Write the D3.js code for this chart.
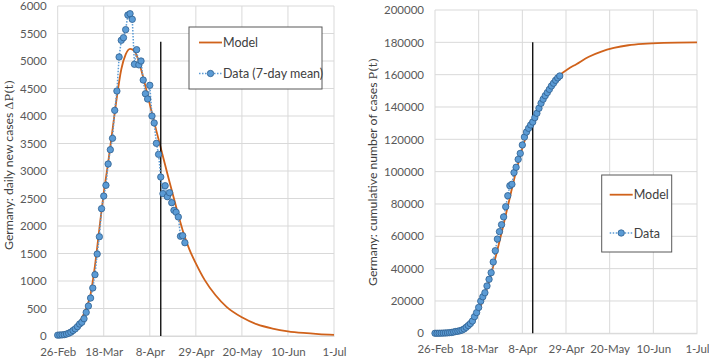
<!DOCTYPE html>
<html>
<head>
<meta charset="utf-8">
<script src="https://cdn.jsdelivr.net/npm/d3@7"></script>
<style>
  body { margin: 0; background: #fff; }
  svg { font-family: Lato, "Open Sans", sans-serif; }
</style>
</head>
<body>
<div id="chart"></div>
<script>
const width = 709;
const height = 358;

// day 0 = 26-Feb-2020
const startDate = new Date(2020, 1, 26);
const tickLabels = ["26-Feb", "18-Mar", "8-Apr", "29-Apr", "20-May", "10-Jun", "1-Jul"];
const tickDays = [0, 21, 42, 63, 84, 105, 126];
const cutDay = 47;

// daily new cases, 7-day mean (one value per day from 26-Feb)
const dailyMean = [15, 18, 20, 25, 35, 50, 70, 100, 130, 170,
  218, 250, 315, 430, 545, 690, 873, 1115, 1490, 1805, 2315, 2545, 2740,
  3127, 3387, 3594, 4103, 4454, 5073, 5376, 5424, 5570, 5836, 5860, 5758, 4940,
  5206, 4930, 5000, 4654, 4405, 4309, 4558, 4000, 3873, 3503, 3303, 2890,
  2588, 2733, 2533, 2606, 2424, 2285, 2249, 2164, 1813, 1824, 1696];

// model for daily new cases
const modelDailyDays = [0, 4, 8, 11, 13, 15, 17, 19, 21, 23, 25, 27, 29, 31, 33, 35, 37, 39, 41, 43, 45, 47,
  49, 51, 53, 55, 57, 60, 63, 67, 72, 77, 84, 91, 98, 105, 112, 119, 126];
const modelDailyVals = [10, 45, 150, 330, 500, 760, 1280, 1950, 2600, 3150, 3750, 4350, 4850, 5120, 5220, 5180,
  4990, 4700, 4380, 4050, 3730, 3420, 3110, 2800, 2500, 2200, 1920, 1580, 1320, 1020, 740, 530, 340, 210,
  135, 85, 55, 35, 22];

// cumulative cases (one value per day from 26-Feb)
const cumCases = [20, 30, 50, 80, 130, 200, 260, 400, 530, 800,
  1100, 1300, 1600, 2000, 2700, 3700, 4800, 6000, 7600, 10300,
  12800, 16000, 19900, 22600, 25100, 29300, 33400, 37500, 44100, 51100,
  58300, 62900, 67200, 72000, 78300, 85100, 91300, 92200, 99400, 102700,
  107600, 111300, 116500, 121400, 124500, 126800, 128900, 130700, 133400, 136100,
  139200, 142300, 144800, 147000, 148900, 150900, 153000, 154700, 156500, 158000, 159200];

// model for cumulative cases
const modelCumDays = [0, 6, 10, 13, 16, 18, 20, 22, 24, 26, 28, 30, 32, 34, 36, 38, 40, 42, 44, 46, 48,
  50, 52, 54, 56, 58, 60, 64, 68, 74, 80, 86, 93, 100, 110, 126];
const modelCumVals = [0, 200, 700, 1700, 3800, 6500, 11000, 17000, 24000, 32000, 41500, 51500, 62000, 73000,
  84000, 95000, 105000, 114500, 122500, 128500, 134800, 140500, 145500, 150000, 154000, 157200, 159700,
  163500, 166500, 171100, 174300, 176500, 178200, 179100, 179700, 180000];

const dayToDate = d => d3.timeDay.offset(startDate, d);

const svg = d3.select("#chart").append("svg")
  .attr("width", width)
  .attr("height", height);

function drawPanel(opt) {
  const x = d3.scaleTime()
    .domain([dayToDate(0), dayToDate(126)])
    .range([opt.left, opt.right]);
  const y = d3.scaleLinear()
    .domain([0, opt.yMax])
    .range([opt.bottom, opt.top]);

  const g = svg.append("g");

  // grid
  g.selectAll(".hgrid")
    .data(y.ticks(opt.yTickCount))
    .enter().append("line")
    .attr("x1", opt.left).attr("x2", opt.right)
    .attr("y1", d => y(d)).attr("y2", d => y(d))
    .attr("stroke", "#d9d9d9").attr("stroke-width", 1);
  g.selectAll(".vgrid")
    .data(tickDays)
    .enter().append("line")
    .attr("x1", d => x(dayToDate(d))).attr("x2", d => x(dayToDate(d)))
    .attr("y1", opt.top).attr("y2", opt.bottom)
    .attr("stroke", "#d9d9d9").attr("stroke-width", 1);

  // x axis
  const xAxis = g.append("g")
    .attr("transform", "translate(0," + opt.bottom + ")")
    .call(d3.axisBottom(x)
      .tickValues(tickDays.map(dayToDate))
      .tickFormat((d, i) => tickLabels[i])
      .tickSize(0).tickPadding(12));
  xAxis.select(".domain").attr("stroke", "#d9d9d9");

  // y axis
  const yAxis = g.append("g")
    .attr("transform", "translate(" + opt.left + ",0)")
    .call(d3.axisLeft(y).ticks(opt.yTickCount).tickFormat(d3.format("d"))
      .tickSize(0).tickPadding(opt.yPad));
  yAxis.select(".domain").remove();

  g.selectAll(".tick text")
    .attr("fill", "#595959")
    .style("font-size", "11.5px")
    .style("font-family", "Lato, sans-serif");

  // model line
  const modelPts = opt.modelDays.map((d, i) => [d, opt.modelVals[i]]);
  g.append("path")
    .datum(modelPts)
    .attr("fill", "none")
    .attr("stroke", "#d0621b")
    .attr("stroke-width", 1.8)
    .attr("d", d3.line()
      .x(d => x(dayToDate(d[0])))
      .y(d => y(d[1]))
      .curve(d3.curveMonotoneX));

  // cut line
  g.append("line")
    .attr("x1", x(dayToDate(cutDay))).attr("x2", x(dayToDate(cutDay)))
    .attr("y1", y(0)).attr("y2", y(opt.cutTop))
    .attr("stroke", "#000").attr("stroke-width", 1.3);

  // data: dotted line + markers
  g.append("path")
    .datum(opt.data)
    .attr("fill", "none")
    .attr("stroke", "#5b9bd5")
    .attr("stroke-width", 1.5)
    .attr("stroke-dasharray", "1.5,1.5")
    .attr("d", d3.line()
      .x((d, i) => x(dayToDate(i)))
      .y(d => y(d)));

  g.selectAll(".pt")
    .data(opt.data)
    .enter().append("circle")
    .attr("cx", (d, i) => x(dayToDate(i)))
    .attr("cy", d => y(d))
    .attr("r", 3.2)
    .attr("fill", "#5b9bd5")
    .attr("stroke", "#2f5f8f")
    .attr("stroke-width", 0.8);

  // y title
  const t = g.append("text")
    .attr("transform", "translate(" + opt.titleX + "," + opt.titleY + ") rotate(-90)")
    .attr("text-anchor", "middle")
    .attr("fill", "#404040")
    .style("font-size", "12.2px");
  t.append("tspan").text(opt.title + " ");
  t.append("tspan").style("font-family", "'DejaVu Serif', serif").style("font-size", "11.5px").text(opt.titleSym);

  // legend
  const lg = g.append("g");
  lg.append("rect")
    .attr("x", opt.legend.x).attr("y", opt.legend.y)
    .attr("width", opt.legend.w).attr("height", opt.legend.h)
    .attr("fill", "#fff").attr("stroke", "#595959").attr("stroke-width", 1);
  const lx = opt.legend.x + opt.legend.pad;
  lg.append("line")
    .attr("x1", lx).attr("x2", lx + 23)
    .attr("y1", opt.legend.y1).attr("y2", opt.legend.y1)
    .attr("stroke", "#d0621b").attr("stroke-width", 1.8);
  lg.append("text")
    .attr("x", lx + 24).attr("y", opt.legend.y1 + 4.5)
    .attr("fill", "#404040").style("font-size", "12.5px")
    .text("Model");
  lg.append("line")
    .attr("x1", lx).attr("x2", lx + 23)
    .attr("y1", opt.legend.y2).attr("y2", opt.legend.y2)
    .attr("stroke", "#5b9bd5").attr("stroke-width", 1.5)
    .attr("stroke-dasharray", "1.5,1.5");
  lg.append("circle")
    .attr("cx", lx + 11.5).attr("cy", opt.legend.y2).attr("r", 3.2)
    .attr("fill", "#5b9bd5").attr("stroke", "#2f5f8f").attr("stroke-width", 0.8);
  lg.append("text")
    .attr("x", lx + 24).attr("y", opt.legend.y2 + 4.5)
    .attr("fill", "#404040").style("font-size", "12.5px")
    .text(opt.dataLabel);
}

drawPanel({
  left: 57.7, right: 334, top: 6, bottom: 336,
  yMax: 6000, yTickCount: 12, yPad: 11,
  data: dailyMean,
  modelDays: modelDailyDays, modelVals: modelDailyVals,
  cutTop: 5350,
  title: "Germany: daily new cases", titleSym: "\u0394P(t)",
  titleX: 13, titleY: 165,
  legend: {x: 189, y: 27, w: 133, h: 62, pad: 10, y1: 42.5, y2: 73.5},
  dataLabel: "Data (7-day mean)"
});

drawPanel({
  left: 435, right: 697, top: 10, bottom: 333.3,
  yMax: 200000, yTickCount: 10, yPad: 11,
  data: cumCases,
  modelDays: modelCumDays, modelVals: modelCumVals,
  cutTop: 180000,
  title: "Germany: cumulative number of cases", titleSym: "P(t)",
  titleX: 377, titleY: 172,
  legend: {x: 601.7, y: 175, w: 70, h: 77, pad: 8, y1: 194.7, y2: 233},
  dataLabel: "Data"
});
</script>
</body>
</html>
